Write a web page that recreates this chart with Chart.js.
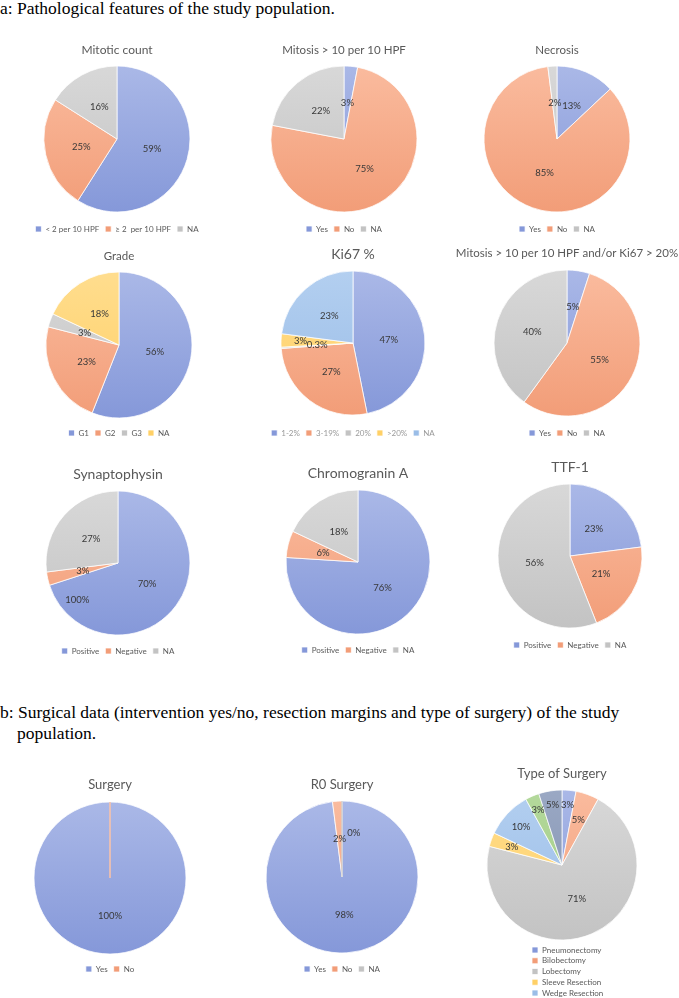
<!DOCTYPE html>
<html><head><meta charset="utf-8">
<script src="https://cdn.jsdelivr.net/npm/chart.js@4.4.1/dist/chart.umd.min.js"></script>
<style>
html,body{margin:0;padding:0;background:#fff;}
body{width:679px;height:998px;position:relative;overflow:hidden;}
.sec{position:absolute;left:0;font-family:"Liberation Serif","Times New Roman",serif;font-size:17.5px;color:#000;line-height:20px;white-space:nowrap;}
.cv{position:absolute;}
</style></head><body>
<div class="sec" style="top:-2px;">a: Pathological features of the study population.</div>
<div class="sec" style="top:702px;">b: Surgical data (intervention yes/no, resection margins and type of surgery) of the study</div>
<div class="sec" style="top:723px;left:17px;">population.</div>
<script>
// ---------- data ----------
const mitoticLabels = ['< 2 per 10 HPF', '\u2265 2  per 10 HPF', 'NA'];
const mitoticValues = [59, 25, 16];
const yesNoNaLabels = ['Yes', 'No', 'NA'];
const mitosis10Values = [3, 75, 22];
const necrosisValues = [13, 85, 2];
const gradeLabels = ['G1', 'G2', 'G3', 'NA'];
const gradeValues = [56, 23, 3, 18];
const ki67Labels = ['1-2%', '3-19%', '20%', '>20%', 'NA'];
const ki67Values = [47, 27, 0.3, 3, 23];
const mitosisKi67Values = [5, 55, 40];
const posNegLabels = ['Positive', 'Negative', 'NA'];
const synaptophysinValues = [70, 3, 27];
const chromograninValues = [76, 6, 18];
const ttf1Values = [23, 21, 56];
const surgeryLabels = ['Yes', 'No'];
const surgeryValues = [100, 0];
const r0Values = [98, 2, 0];
const surgeryTypeLabels = ['Pneumonectomy', 'Bilobectomy', 'Lobectomy', 'Sleeve Resection', 'Wedge Resection', '', ''];
const surgeryTypeValues = [3, 5, 71, 3, 10, 3, 5];

// ---------- style ----------
const FONT = 'Lato, "Open Sans", sans-serif';
const PAL = {
  blue: ['#aab8e7', '#8598d9'], orange: ['#fabb9e', '#f29d78'], gray: ['#d8d8d8', '#c3c3c3'],
  yellow: ['#ffdd8e', '#ffd066'], lightblue: ['#b3cff0', '#9abde7'], green: ['#b4d99c', '#9fca82'],
  slate: ['#9aa8c4', '#8191af']
};
const LF = 8;

const specs = [
  {title: 'Mitotic count', labels: mitoticLabels, values: mitoticValues, colors: ['blue','orange','gray'], cx: 117, cy: 139, r: 73, ty: 50, ts: 12, ly: 229},
  {title: 'Mitosis > 10 per 10 HPF', labels: yesNoNaLabels, values: mitosis10Values, colors: ['blue','orange','gray'], cx: 344, cy: 139, r: 73, ty: 50, ts: 11.5, ly: 229},
  {title: 'Necrosis', labels: yesNoNaLabels, values: necrosisValues, colors: ['blue','orange','gray'], cx: 557, cy: 139, r: 73, ty: 50, ts: 11.5, ly: 229},
  {title: 'Grade', labels: gradeLabels, values: gradeValues, colors: ['blue','orange','gray','yellow'], cx: 119, cy: 345, r: 73, ty: 256, ts: 11.5, ly: 433},
  {title: 'Ki67 %', labels: ki67Labels, values: ki67Values, colors: ['blue','orange','gray','yellow','lightblue'], cx: 353, cy: 343, r: 72, ty: 254, ts: 14, ly: 433, legendColor: '#9a9a9a', kList: [0.5,0.5,0.5,0.73,0.5]},
  {title: 'Mitosis > 10 per 10 HPF and/or Ki67 > 20%', labels: yesNoNaLabels, values: mitosisKi67Values, colors: ['blue','orange','gray'], cx: 567, cy: 343, r: 73, ty: 253, ts: 11.5, ly: 433, w: 236},
  {title: 'Synaptophysin', labels: posNegLabels, values: synaptophysinValues, colors: ['blue','orange','gray'], cx: 118, cy: 563, r: 72, ty: 474, ts: 14, ly: 651, extra: [{text: '100%', deg: 228, k: 0.76}]},
  {title: 'Chromogranin A', labels: posNegLabels, values: chromograninValues, colors: ['blue','orange','gray'], cx: 358, cy: 562, r: 72, ty: 473, ts: 14, ly: 650},
  {title: 'TTF-1', labels: posNegLabels, values: ttf1Values, colors: ['blue','orange','gray'], cx: 570, cy: 556, r: 72, ty: 467, ts: 14, ly: 645},
  {title: 'Surgery', labels: surgeryLabels, values: surgeryValues, colors: ['blue','orange'], cx: 110, cy: 878, r: 76, ty: 785, ts: 13, ly: 969},
  {title: 'R0 Surgery', labels: yesNoNaLabels, values: r0Values, colors: ['blue','orange','gray'], cx: 342, cy: 877, r: 76, ty: 785, ts: 13, ly: 969, zeroLabels: true, adj: {2: {k: 0.6, rot: 15}}},
  {title: 'Type of Surgery', labels: surgeryTypeLabels, values: surgeryTypeValues, colors: ['blue','orange','gray','yellow','lightblue','green','slate'], cx: 562, cy: 865, r: 75, ty: 774, ts: 13, ly: 950, lp: 2.75, rows: 5, pad: 63, legendX: 532, kList: [0.8,0.64,0.5,0.71,0.75,0.8,0.81]}
];

function grad(ctx, key, cy, r) {
  const g = ctx.createLinearGradient(0, cy - r, 0, cy + r);
  g.addColorStop(0, PAL[key][0]);
  g.addColorStop(1, PAL[key][1]);
  return g;
}
function fmt(v) { return v + '%'; }

function labelPlugin(s, canvasLeft) {
  return {
    id: 'lbl',
    afterLayout(chart) {
      if (s.legendX !== undefined && chart.legend) {
        const shift = (s.legendX - canvasLeft) - (chart.legend.left + (s.lp ?? 6));
        chart.legend.left += shift;
        chart.legend.right += shift;
      }
    },
    afterDatasetsDraw(chart) {
      const ctx = chart.ctx;
      const meta = chart.getDatasetMeta(0);
      const vals = chart.data.datasets[0].data;
      ctx.save();
      meta.data.forEach((arc, i) => {
        if (vals[i] === 0) {
          const a = arc.startAngle;
          ctx.strokeStyle = PAL[s.colors[i]][1];
          ctx.lineWidth = 1;
          ctx.beginPath();
          ctx.moveTo(arc.x, arc.y);
          ctx.lineTo(arc.x + arc.outerRadius * Math.cos(a), arc.y + arc.outerRadius * Math.sin(a));
          ctx.stroke();
        }
      });
      ctx.font = '9.5px ' + FONT;
      ctx.fillStyle = '#383838';
      ctx.textAlign = 'center';
      ctx.textBaseline = 'middle';
      meta.data.forEach((arc, i) => {
        if (vals[i] === 0 && !s.zeroLabels) return;
        const adj = (s.adj && s.adj[i]) || {};
        const k = adj.k ?? (s.kList ? s.kList[i] : 0.5);
        const mid = (arc.startAngle + arc.endAngle) / 2 + (adj.rot || 0) * Math.PI / 180;
        ctx.fillText(fmt(vals[i]), arc.x + k * arc.outerRadius * Math.cos(mid), arc.y + k * arc.outerRadius * Math.sin(mid));
      });
      (s.extra || []).forEach(e => {
        const arc = meta.data[0];
        const ang = (e.deg - 90) * Math.PI / 180;
        ctx.fillText(e.text, arc.x + e.k * arc.outerRadius * Math.cos(ang), arc.y + e.k * arc.outerRadius * Math.sin(ang));
      });
      ctx.restore();
    }
  };
}

specs.forEach(s => {
  const p = s.lp ?? 6;
  const ih = LF;
  const W = s.w ?? 226;
  const rows = s.rows ?? 1;
  const areaBottom = s.ly - p - ih / 2;
  const half = areaBottom - s.cy;
  const areaTop = s.cy - half;
  const top = Math.round(s.ty - 0.6 * s.ts);
  const B = Math.max(0, areaTop - top - 1.2 * s.ts);
  const legendH = rows * (ih + p) + 10;
  const H = Math.round(areaBottom + legendH - top);
  const left = s.cx - W / 2;
  const div = document.createElement('div');
  div.className = 'cv';
  div.style.left = left + 'px';
  div.style.top = top + 'px';
  div.style.width = W + 'px';
  div.style.height = H + 'px';
  const cv = document.createElement('canvas');
  div.appendChild(cv);
  document.body.appendChild(div);
  const pad = s.pad || 0;
  new Chart(cv, {
    type: 'pie',
    data: {
      labels: s.labels,
      datasets: [{
        data: s.values,
        backgroundColor: (c) => {
          const key = s.colors[c.dataIndex];
          const a = c.chart.chartArea;
          if (!a) return PAL[key][1];
          return grad(c.chart.ctx, key, (a.top + a.bottom) / 2, s.r);
        },
        borderColor: 'rgba(255,255,255,0.75)',
        borderWidth: 1,
        radius: s.r,
        clip: false
      }]
    },
    options: {
      responsive: true,
      maintainAspectRatio: false,
      animation: false,
      devicePixelRatio: 1,
      layout: {padding: {left: pad, right: pad, top: 0, bottom: 0}},
      plugins: {
        title: {display: true, text: s.title, color: '#595959', font: {family: FONT, size: s.ts, weight: 'normal', lineHeight: 1.2}, padding: {top: 0, bottom: B}},
        legend: {
          display: true, position: 'bottom', align: s.legendX !== undefined ? 'start' : 'center',
          labels: {boxWidth: 6, boxHeight: 6, padding: p, color: s.legendColor || '#595959', font: {family: FONT, size: LF}, filter: (it) => it.text !== ''}
        },
        tooltip: {enabled: false}
      }
    },
    plugins: [labelPlugin(s, left)]
  });
});
</script>
</body></html>
